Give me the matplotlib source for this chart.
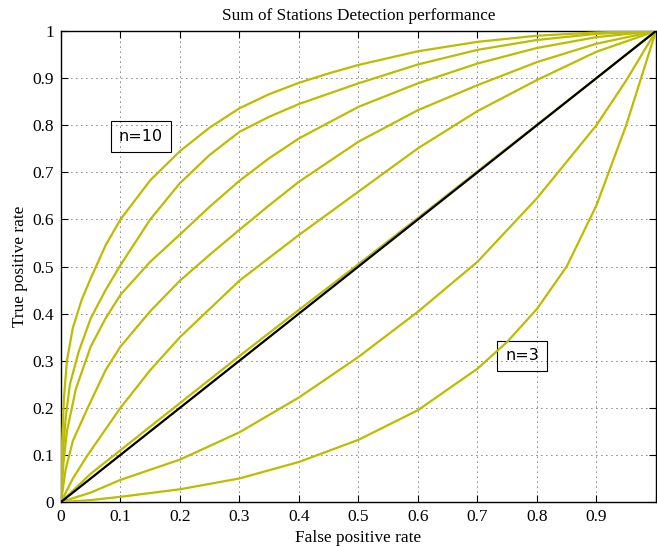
import matplotlib.pyplot as plt

# ROC curves for the summed-station detector, n = 10 (top) down to n = 3 (bottom)
fpr_n10 = [0, 0.002, 0.005, 0.01, 0.02, 0.035, 0.05, 0.075, 0.1, 0.15, 0.2, 0.25, 0.3, 0.35, 0.4, 0.45, 0.5, 0.6, 0.7, 0.8, 0.9, 1.0]
tpr_n10 = [0, 0.13, 0.22, 0.3, 0.37, 0.43, 0.475, 0.545, 0.6, 0.683, 0.745, 0.795, 0.836, 0.866, 0.89, 0.91, 0.928, 0.957, 0.977, 0.99, 0.997, 1.0]

fpr_n9 = [0, 0.003, 0.008, 0.015, 0.03, 0.05, 0.075, 0.1, 0.15, 0.2, 0.25, 0.3, 0.35, 0.4, 0.5, 0.6, 0.7, 0.8, 0.9, 1.0]
tpr_n9 = [0, 0.1, 0.18, 0.25, 0.32, 0.39, 0.45, 0.503, 0.6, 0.677, 0.737, 0.786, 0.818, 0.845, 0.889, 0.929, 0.96, 0.981, 0.994, 1.0]

fpr_n8 = [0, 0.004, 0.01, 0.025, 0.05, 0.075, 0.1, 0.15, 0.2, 0.25, 0.3, 0.35, 0.4, 0.5, 0.6, 0.7, 0.8, 0.9, 1.0]
tpr_n8 = [0, 0.08, 0.15, 0.24, 0.33, 0.39, 0.44, 0.51, 0.568, 0.627, 0.682, 0.73, 0.772, 0.839, 0.889, 0.931, 0.964, 0.987, 1.0]

fpr_n7 = [0, 0.008, 0.02, 0.045, 0.075, 0.1, 0.15, 0.2, 0.25, 0.3, 0.35, 0.4, 0.5, 0.6, 0.7, 0.8, 0.9, 1.0]
tpr_n7 = [0, 0.07, 0.13, 0.2, 0.28, 0.33, 0.405, 0.47, 0.525, 0.578, 0.63, 0.68, 0.765, 0.832, 0.885, 0.934, 0.973, 1.0]

fpr_n6 = [0, 0.02, 0.045, 0.1, 0.15, 0.2, 0.25, 0.3, 0.4, 0.5, 0.6, 0.7, 0.8, 0.9, 1.0]
tpr_n6 = [0, 0.05, 0.1, 0.2, 0.28, 0.35, 0.41, 0.47, 0.567, 0.659, 0.751, 0.83, 0.896, 0.956, 1.0]

fpr_n5 = [0, 0.05, 0.1, 0.2, 0.3, 0.4, 0.5, 0.6, 0.7, 0.8, 0.9, 1.0]
tpr_n5 = [0, 0.06, 0.11, 0.21, 0.31, 0.408, 0.505, 0.603, 0.702, 0.801, 0.9, 1.0]

fpr_n4 = [0, 0.05, 0.1, 0.2, 0.3, 0.4, 0.5, 0.6, 0.7, 0.8, 0.9, 0.95, 1.0]
tpr_n4 = [0, 0.02, 0.047, 0.09, 0.148, 0.222, 0.308, 0.404, 0.51, 0.645, 0.8, 0.895, 1.0]

fpr_n3 = [0, 0.05, 0.1, 0.2, 0.3, 0.4, 0.5, 0.6, 0.7, 0.75, 0.8, 0.85, 0.9, 0.95, 0.98, 1.0]
tpr_n3 = [0, 0.004, 0.011, 0.027, 0.05, 0.085, 0.132, 0.195, 0.283, 0.34, 0.41, 0.5, 0.63, 0.8, 0.92, 1.0]

curves = [(fpr_n10, tpr_n10), (fpr_n9, tpr_n9), (fpr_n8, tpr_n8), (fpr_n7, tpr_n7),
          (fpr_n6, tpr_n6), (fpr_n5, tpr_n5), (fpr_n4, tpr_n4), (fpr_n3, tpr_n3)]

chance = [0, 1]

fig = plt.figure(figsize=(6.57, 5.46), dpi=100)
ax = fig.add_axes([0.0928, 0.0806, 0.9056, 0.8626])

for fpr, tpr in curves:
    ax.plot(fpr, tpr, color='#bcbc00', lw=1.6, zorder=3)
ax.plot(chance, chance, color='black', lw=1.6, zorder=3)

ax.set_xlim(0, 1)
ax.set_ylim(0, 1)
ax.set_xticks([i / 10 for i in range(11)])
ax.set_yticks([i / 10 for i in range(11)])
ax.set_xticklabels(['0', '0.1', '0.2', '0.3', '0.4', '0.5', '0.6', '0.7', '0.8', '0.9', ''])
ax.set_yticklabels(['0', '0.1', '0.2', '0.3', '0.4', '0.5', '0.6', '0.7', '0.8', '0.9', '1'])
ax.tick_params(direction='in', length=5, top=True, right=True, labelsize=12.5, pad=5)
for lab in ax.get_xticklabels() + ax.get_yticklabels():
    lab.set_fontfamily('Liberation Serif')
ax.grid(True, color='black', linestyle=(0, (1, 5)), lw=0.6)
for s in ax.spines.values():
    s.set_linewidth(1.0)

serif = dict(family='Liberation Serif', fontsize=12.4)
ax.set_title('Sum of Stations Detection performance', pad=8, **serif)
ax.set_xlabel('False positive rate', labelpad=4, **serif)
ax.set_ylabel('True positive rate', labelpad=3, **serif)

# see-through label boxes, curves and grid stay visible inside them
box = dict(boxstyle='square,pad=0.5', facecolor='none', edgecolor='black', lw=0.8)
ax.text(0.134, 0.775, 'n=10', ha='center', va='center', fontsize=11.5, family='DejaVu Sans', bbox=box, zorder=2)
ax.text(0.775, 0.31, 'n=3', ha='center', va='center', fontsize=11.5, family='DejaVu Sans', bbox=box, zorder=2)

fig.savefig('out.png', dpi=100)
